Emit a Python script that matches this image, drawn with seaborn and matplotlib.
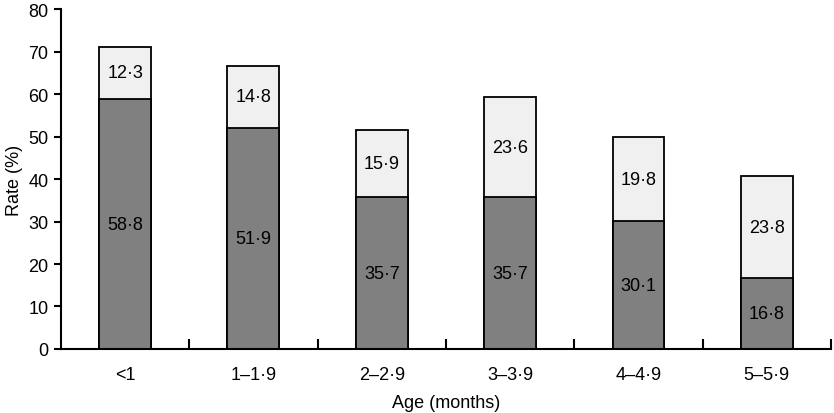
import numpy as np
import pandas as pd
import seaborn as sns
import matplotlib.pyplot as plt

ages = ["<1", "1–1·9", "2–2·9", "3–3·9", "4–4·9", "5–5·9"]
lower = [58.8, 51.9, 35.7, 35.7, 30.1, 16.8]
upper = [12.3, 14.8, 15.9, 23.6, 19.8, 23.8]

sns.set_style("white")
plt.rcParams["font.family"] = ["Liberation Sans", "DejaVu Sans"]
plt.rcParams["text.color"] = "black"
plt.rcParams["axes.labelcolor"] = "black"
plt.rcParams["xtick.color"] = "black"
plt.rcParams["ytick.color"] = "black"

df = pd.DataFrame({"age": ages, "lower": lower, "upper": upper})
df["total"] = df["lower"] + df["upper"]

fig = plt.figure(figsize=(8.34, 4.14), dpi=100)
ax = fig.add_axes([0.0731, 0.1546, 0.9233, 0.8212])

bar_kws = {"width": 0.405, "edgecolor": "black", "linewidth": 1.3, "saturation": 1}
sns.barplot(data=df, x="age", y="total", color="#f0f0f0", ax=ax, **bar_kws)
sns.barplot(data=df, x="age", y="lower", color="#808080", ax=ax, **bar_kws)

fs = 13
for i, (lo, up) in enumerate(zip(lower, upper)):
    ax.text(i, lo / 2, f"{lo:.1f}".replace(".", "·"), ha="center", va="center", fontsize=fs)
    ax.text(i, lo + up / 2, f"{up:.1f}".replace(".", "·"), ha="center", va="center", fontsize=fs)

ax.set_xlim(-0.5, 5.5)
ax.set_ylim(0, 80)
ax.set_yticks(np.arange(0, 81, 10))
ax.set_xticks(np.arange(0.5, 6, 1), minor=True)
ax.tick_params(axis="x", which="major", bottom=True, length=0, pad=12, labelsize=fs)
ax.tick_params(axis="x", which="minor", bottom=True, direction="in", length=7, width=1.5)
ax.tick_params(axis="y", direction="out", length=5, width=1.5, pad=4, labelsize=fs, left=True)

sns.despine(ax=ax)
for s in ["left", "bottom"]:
    ax.spines[s].set_linewidth(1.5)
    ax.spines[s].set_color("black")

ax.set_xlabel("Age (months)", fontsize=fs, labelpad=8)
ax.set_ylabel("Rate (%)", fontsize=fs, labelpad=4)

plt.savefig("out.png", dpi=100)
